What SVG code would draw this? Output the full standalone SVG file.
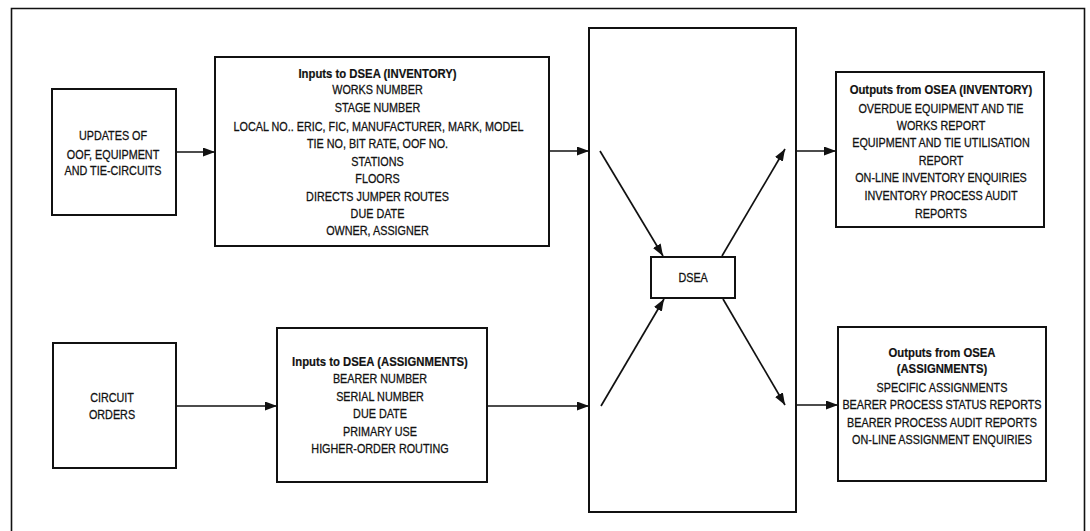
<svg xmlns="http://www.w3.org/2000/svg" width="1090" height="531" viewBox="0 0 1090 531">
  <style>
    .box { fill: #fff; stroke: #111; stroke-width: 2; }
    .frame { fill: none; stroke: #111; stroke-width: 1.6; }
    .wire { fill: none; stroke: #111; stroke-width: 1.7; }
    /* condensed lettering: regular face squeezed horizontally about its own centre, slightly heavy */
    text { font-family: "Liberation Sans", Arial, sans-serif; font-size: 13.5px; fill: #111; stroke: #111; stroke-width: 0.3;
           text-anchor: middle; transform-box: fill-box; transform-origin: center; transform: scaleX(0.8); }
    .title { font-weight: bold; stroke-width: 0.2; transform: scaleX(0.84); }
  </style>
  <defs>
    <marker id="arrow" markerUnits="userSpaceOnUse" markerWidth="13" markerHeight="9" refX="12" refY="4.5" orient="auto">
      <path d="M0,0 L12,4.5 L0,9 Z" fill="#111"/>
    </marker>
  </defs>

  <rect width="1090" height="531" fill="#fff"/>

  <!-- open frame around the figure -->
  <path class="frame" d="M11.5,531 V8.5 H1084.5 V531"/>

  <g id="updates">
    <rect class="box" x="52" y="89" width="124" height="126"/>
    <text x="113" y="140">UPDATES OF</text>
    <text x="113" y="159">OOF, EQUIPMENT</text>
    <text x="113" y="175">AND TIE-CIRCUITS</text>
  </g>

  <g id="inputs-inventory">
    <rect class="box" x="215" y="57" width="334" height="189"/>
    <text class="title" x="377.5" y="78">Inputs to DSEA (INVENTORY)</text>
    <text x="377.5" y="94.5">WORKS NUMBER</text>
    <text x="377.5" y="112.5">STAGE NUMBER</text>
    <text x="378.5" y="131">LOCAL NO.. ERIC, FIC, MANUFACTURER, MARK, MODEL</text>
    <text x="377.5" y="148.5">TIE NO, BIT RATE, OOF NO.</text>
    <text x="377.5" y="166.5">STATIONS</text>
    <text x="377.5" y="183.5">FLOORS</text>
    <text x="377.5" y="201.5">DIRECTS JUMPER ROUTES</text>
    <text x="377.5" y="218.5">DUE DATE</text>
    <text x="377.5" y="235.5">OWNER, ASSIGNER</text>
  </g>

  <g id="circuit-orders">
    <rect class="box" x="53" y="343" width="123" height="125"/>
    <text x="112" y="402">CIRCUIT</text>
    <text x="112" y="419">ORDERS</text>
  </g>

  <g id="inputs-assignments">
    <rect class="box" x="277" y="328" width="210" height="154"/>
    <text class="title" x="380" y="366">Inputs to DSEA (ASSIGNMENTS)</text>
    <text x="380" y="383">BEARER NUMBER</text>
    <text x="380" y="401">SERIAL NUMBER</text>
    <text x="380" y="418">DUE DATE</text>
    <text x="380" y="436">PRIMARY USE</text>
    <text x="380" y="453">HIGHER-ORDER ROUTING</text>
  </g>

  <g id="dsea-system">
    <rect class="box" x="589" y="28" width="207" height="484"/>
  </g>

  <g id="dsea">
    <rect class="box" x="651" y="257" width="84" height="41"/>
    <text x="693" y="282">DSEA</text>
  </g>

  <g id="outputs-inventory">
    <rect class="box" x="836" y="72" width="208" height="155"/>
    <text class="title" x="941" y="94">Outputs from OSEA (INVENTORY)</text>
    <text x="941" y="113">OVERDUE EQUIPMENT AND TIE</text>
    <text x="941" y="130">WORKS REPORT</text>
    <text x="941" y="147">EQUIPMENT AND TIE UTILISATION</text>
    <text x="941" y="165">REPORT</text>
    <text x="941" y="182">ON-LINE INVENTORY ENQUIRIES</text>
    <text x="941" y="200">INVENTORY PROCESS AUDIT</text>
    <text x="941" y="218">REPORTS</text>
  </g>

  <g id="outputs-assignments">
    <rect class="box" x="838" y="327" width="208" height="154"/>
    <text class="title" x="942" y="357">Outputs from OSEA</text>
    <text class="title" x="942" y="373">(ASSIGNMENTS)</text>
    <text x="942" y="392">SPECIFIC ASSIGNMENTS</text>
    <text x="942" y="409">BEARER PROCESS STATUS REPORTS</text>
    <text x="942" y="427">BEARER PROCESS AUDIT REPORTS</text>
    <text x="942" y="444">ON-LINE ASSIGNMENT ENQUIRIES</text>
  </g>

  <g id="connectors">
    <line class="wire" x1="176" y1="152" x2="215" y2="152" marker-end="url(#arrow)"/>
    <line class="wire" x1="549" y1="151" x2="589" y2="151" marker-end="url(#arrow)"/>
    <line class="wire" x1="796" y1="151" x2="836" y2="151" marker-end="url(#arrow)"/>
    <line class="wire" x1="176" y1="406" x2="277" y2="406" marker-end="url(#arrow)"/>
    <line class="wire" x1="487" y1="406" x2="589" y2="406" marker-end="url(#arrow)"/>
    <line class="wire" x1="796" y1="405" x2="838" y2="405" marker-end="url(#arrow)"/>
    <line class="wire" x1="600" y1="151" x2="663" y2="256" marker-end="url(#arrow)"/>
    <line class="wire" x1="722" y1="256" x2="785" y2="149" marker-end="url(#arrow)"/>
    <line class="wire" x1="601" y1="406" x2="664" y2="299" marker-end="url(#arrow)"/>
    <line class="wire" x1="723" y1="299" x2="785" y2="405" marker-end="url(#arrow)"/>
  </g>
</svg>
